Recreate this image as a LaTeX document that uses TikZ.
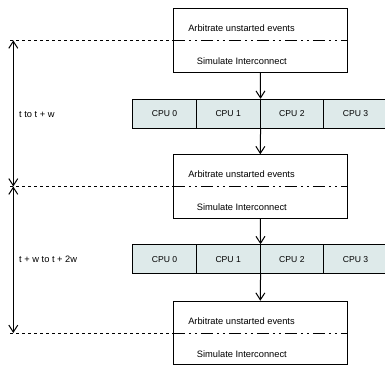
\documentclass[tikz,border=0pt]{standalone}
\usepackage{fontspec}
\setmainfont{Liberation Sans}
\usetikzlibrary{arrows.meta}
\definecolor{cpufill}{RGB}{222,234,234}
\tikzset{
  stage/.style={draw, line width=1pt, minimum width=174pt, minimum height=63.5pt, inner sep=0pt},
  cpu/.style={draw, line width=1pt, fill=cpufill, minimum width=63.7pt, minimum height=29pt, inner sep=0pt, font=\fontsize{8.6}{10}\selectfont},
  lbl/.style={inner sep=0pt, font=\fontsize{9.3}{11}\selectfont},
  flow/.style={line width=1pt, -{Straight Barb[length=7pt,width=9pt,line width=1pt]}},
  span/.style={line width=1pt, {Straight Barb[length=7pt,width=9pt,line width=1pt]}-{Straight Barb[length=7pt,width=9pt,line width=1pt]}},
  tline/.style={line width=1pt, dash pattern=on 3pt off 3pt},
  sepline/.style={line width=1pt, dash pattern=on 12pt off 4pt on 2pt off 4pt on 2pt off 4pt},
}
\begin{document}
\begin{tikzpicture}[x=1pt,y=-1pt]
\useasboundingbox (0,0) rectangle (385,366);
% stages
\node[stage] (s1) at (260.3,40.4) {};
\node[stage] (s2) at (260.3,186.5) {};
\node[stage] (s3) at (260.3,333) {};
\foreach \s/\y in {s1/40.4,s2/186.5,s3/333}{
  \node[lbl] (\s a) at (241.5,\y-12.3) {Arbitrate unstarted events};
  \node[lbl] (\s b) at (241.8,\y+21) {Simulate Interconnect};
}
% CPU rows
\foreach \r/\y in {a/113.8,b/259.2}{
  \node[cpu] (c\r0) at (164.5,\y) {CPU 0};
  \node[cpu] (c\r1) at (228.2,\y) {CPU 1};
  \node[cpu] (c\r2) at (291.9,\y) {CPU 2};
  \node[cpu] (c\r3) at (355.6,\y) {CPU 3};
}
% flow arrows
\draw[flow] (s1.south) -- (ca1.north east);
\draw[flow] (ca1.south east) -- (s2.north);
\draw[flow] (s2.south) -- (cb1.north east);
\draw[flow] (cb1.south east) -- (s3.north);
% time lines
\coordinate (l1) at (10,40.4);
\coordinate (l2) at (10,186.5);
\coordinate (l3) at (10,333);
\draw[tline] (l1) -- (s1.west);
\draw[tline] (l2) -- (s2.west);
\draw[tline] (l3) -- (s3.west);
\draw[sepline] (s1.west) -- (s1.east);
\draw[sepline] (s2.west) -- (s2.east);
\draw[sepline] (s3.west) -- (s3.east);
\coordinate (a1) at (13.3,40.4);
\coordinate (a2) at (13.3,186.5);
\coordinate (a3) at (13.3,333);
\draw[span] (a1) -- (a2);
\draw[span] (a2) -- (a3);
\node[lbl, anchor=west] (t1) at (19,114.5) {t to t + w};
\node[lbl, anchor=west] (t2) at (19,259.5) {t + w to t + 2w};
\end{tikzpicture}
\end{document}
